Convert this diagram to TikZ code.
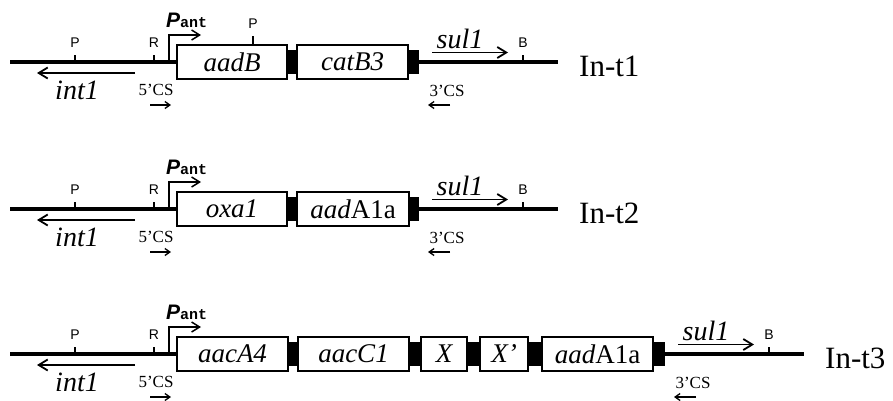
\documentclass[tikz,border=0pt]{standalone}
\usepackage{fontspec}
\setmainfont{Liberation Serif}
\setsansfont{Liberation Sans}
\setmonofont{Liberation Mono}
\usetikzlibrary{arrows.meta}

\tikzset{
  dna/.style={line width=3.5pt},
  gene/.style={draw, line width=1.8pt, fill=white, inner sep=0pt,
    minimum height=34pt, font=\fontsize{27}{27}\selectfont\itshape},
  spacer/.style={fill=black, inner sep=0pt, minimum height=24pt},
  site/.style={line width=1.3pt},
  sitelabel/.style={font=\sffamily\fontsize{14}{14}\selectfont, inner sep=0pt, anchor=base},
  orf/.style={line width=1.8pt, -{Straight Barb[length=9pt,width=11pt]}},
  primer/.style={line width=1.3pt, -{Straight Barb[length=5pt,width=7pt]}},
  promoter/.style={line width=1.5pt, -{Straight Barb[length=8pt,width=10pt]}},
  genelabel/.style={font=\fontsize{28}{28}\selectfont\itshape, inner sep=0pt, anchor=base},
  cslabel/.style={font=\fontsize{17}{17}\selectfont, inner sep=0pt, anchor=base},
  rowlabel/.style={font=\fontsize{31}{31}\selectfont, inner sep=0pt, anchor=west},
}

\newcommand{\pantlabel}{{\sffamily\bfseries\itshape\fontsize{21}{21}\selectfont P}{\ttfamily\bfseries\fontsize{15}{15}\selectfont ant}}

% integrase side of an integron: #1 row prefix, #2 first cassette node
\newcommand{\leftarm}[2]{%
  \coordinate (#1-start) at (10,0);
  \draw[dna] (#1-start) -- (#2.west);
  \coordinate (#1-sP) at (75,0);
  \coordinate (#1-sR) at (154,0);
  \draw[site] (#1-sP) -- ++(0,-7);
  \draw[site] (#1-sR) -- ++(0,-7);
  \node[sitelabel] (#1-lP) at (75,-15) {P};
  \node[sitelabel] (#1-lR) at (154,-15) {R};
  \coordinate (#1-tss) at (169,0);
  \coordinate (#1-tsstip) at (201,-27);
  \draw[promoter] (#1-tss) |- (#1-tsstip);
  \node[anchor=base west, inner sep=0pt] (#1-pant) at (166,-35) {\pantlabel};
  \coordinate (#1-i0) at (135,11);
  \coordinate (#1-i1) at (37,11);
  \draw[orf] (#1-i0) -- (#1-i1);
  \node[genelabel] (#1-int) at (77,37) {int1};
  \coordinate (#1-c0) at (150,43);
  \coordinate (#1-c1) at (171,43);
  \draw[primer] (#1-c0) -- (#1-c1);
  \node[cslabel] (#1-5cs) at (156,33) {5’CS};
}

% sul1 side: #1 row prefix, #2 x of the last spacer's end, #3 last spacer node, #4 name
\newcommand{\rightarm}[4]{%
  \coordinate (#1-end) at ({#2+139},0);
  \draw[dna] (#3.east) -- (#1-end);
  \coordinate (#1-s0) at ({#2+13},-9.5);
  \coordinate (#1-s1) at ({#2+89},-9.5);
  \draw[orf] (#1-s0) -- (#1-s1);
  \node[genelabel] (#1-sul) at ({#2+41},-14) {sul1};
  \coordinate (#1-sB) at ({#2+104},0);
  \draw[site] (#1-sB) -- ++(0,-7);
  \node[sitelabel] (#1-lB) at ({#2+104},-15) {B};
  \coordinate (#1-t0) at ({#2+31},43);
  \coordinate (#1-t1) at ({#2+9},43);
  \draw[primer] (#1-t0) -- (#1-t1);
  \node[cslabel] (#1-3cs) at ({#2+28},34) {3’CS};
  \node[rowlabel] (#1-name) at ({#2+160},4) {#4};
}

\begin{document}
\begin{tikzpicture}[x=1pt,y=-1pt]
\fill[white] (0,0) rectangle (893,400);
\useasboundingbox (0,0) rectangle (893,400);

% In-t1
\begin{scope}[shift={(0,62)}]
  \node[gene, minimum width=110pt] (r1-aadB) at (232,0) {aadB};
  \node[spacer, minimum width=10pt] (r1-j1) at (292,0) {};
  \node[gene, minimum width=111pt] (r1-catB3) at (352.5,0) {catB3};
  \node[spacer, minimum width=11pt] (r1-j2) at (413.5,0) {};
  \leftarm{r1}{r1-aadB}
  \rightarm{r1}{419}{r1-j2}{In-t1}
  \coordinate (r1-sP2) at (253,-17);
  \draw[site] (r1-sP2) -- ++(0,-9);
  \node[sitelabel] (r1-lP2) at (253,-34) {P};
\end{scope}

% In-t2
\begin{scope}[shift={(0,209)}]
  \node[gene, minimum width=110pt] (r2-oxa1) at (232,0) {oxa1};
  \node[spacer, minimum width=10pt] (r2-j1) at (292,0) {};
  \node[gene, minimum width=112pt] (r2-aadA1a) at (353,0) {aad\upshape A1a};
  \node[spacer, minimum width=10pt] (r2-j2) at (414,0) {};
  \leftarm{r2}{r2-oxa1}
  \rightarm{r2}{419}{r2-j2}{In-t2}
\end{scope}

% In-t3
\begin{scope}[shift={(0,354)}]
  \node[gene, minimum width=111pt] (r3-aacA4) at (232.5,0) {aacA4};
  \node[spacer, minimum width=10pt] (r3-j1) at (293,0) {};
  \node[gene, minimum width=111pt] (r3-aacC1) at (353.5,0) {aacC1};
  \node[spacer, minimum width=12pt] (r3-j2) at (415,0) {};
  \node[gene, minimum width=46pt] (r3-X) at (444,0) {X};
  \node[spacer, minimum width=13pt] (r3-j3) at (473.5,0) {};
  \node[gene, minimum width=48pt] (r3-X2) at (504,0) {X’};
  \node[spacer, minimum width=14pt] (r3-j4) at (535,0) {};
  \node[gene, minimum width=111pt] (r3-aadA1a) at (597.5,0) {aad\upshape A1a};
  \node[spacer, minimum width=12pt] (r3-j5) at (659,0) {};
  \leftarm{r3}{r3-aacA4}
  \rightarm{r3}{665}{r3-j5}{In-t3}
\end{scope}
\end{tikzpicture}
\end{document}
